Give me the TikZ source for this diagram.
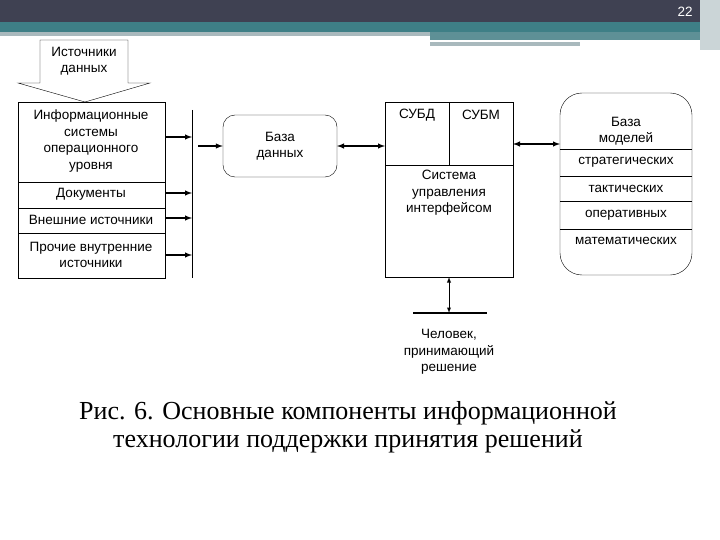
\documentclass[tikz,border=0pt]{standalone}
\usepackage{fontspec}
\setmainfont{Liberation Sans}
\newfontfamily\capfont{Liberation Serif}
\definecolor{hdr}{HTML}{3F4152}
\definecolor{teal}{HTML}{3E7F86}
\definecolor{lgr}{HTML}{A9B9BD}
\begin{document}
\begin{tikzpicture}[x=1pt,y=-1pt,
  txt/.style={font=\fontsize{13.5}{16.5}\selectfont,align=center,inner sep=0},
  arr/.style={-latex,line width=1.4pt},
  darr/.style={latex-latex,line width=1.4pt}]
\useasboundingbox (0,0) rectangle (720,540);
\fill[hdr] (0,0) rectangle (720,22);
\fill[teal] (0,22) rectangle (720,32);
\fill[lgr] (0,32) rectangle (430,36);
\fill[teal!70!lgr] (430,32) rectangle (700,40);
\fill[lgr] (430,42) rectangle (580,46);
\fill[lgr!60] (700,0) rectangle (720,50);
\node[text=white,txt] (pg) at (685,12) {22};
% source arrow shape
\draw (40,40) -- (128,40) -- (128,83) -- (150,83) -- (85,102) -- (18,83) -- (40,83) -- cycle;
\node[txt] (src) at (84,61) {Источники\\данных};
% left stack
\draw (18,102) rectangle (165,278);
\draw (18,182) -- (165,182) (18,208) -- (165,208) (18,233) -- (165,233);
\node[txt] (is) at (91,141) {Информационные\\системы\\операционного\\уровня};
\node[txt] (doc) at (91,194) {Документы};
\node[txt] (ext) at (91,220) {Внешние источники};
\node[txt] (oth) at (91,255) {Прочие внутренние\\источники};
\coordinate (bt) at (192,110); \coordinate (bb) at (192,278);
\draw (bt) -- (bb);
\foreach \y in {137,193,218,255} \draw[arr] (165,\y) -- (192,\y);
\node[draw,rounded corners=12,minimum width=114,minimum height=62,txt] (db) at (280,146) {База\\данных};
\draw[arr] (198,146) -- (db.west);
% main box
\draw (385,102) rectangle (513,277);
\coordinate (mw) at (385,146); \coordinate (me) at (513,144);
\coordinate (de) at (337,146);
\draw (385,165) -- (513,165) (449,102) -- (449,165);
\node[txt] (subd) at (417,115) {СУБД};
\node[txt] (subm) at (481,115) {СУБМ};
\node[txt] (sui) at (449,193) {Система\\управления\\интерфейсом};
\draw[darr] (de) -- (mw);
% model base
\draw[rounded corners=22] (560,93) rectangle (692,275);
\coordinate (mb) at (560,144);
\draw (560,149) -- (692,149) (560,176) -- (692,176) (560,201) -- (692,201) (560,229) -- (692,229);
\node[txt] (bm) at (626,131) {База\\моделей};
\node[txt] (s1) at (626,162) {стратегических};
\node[txt] (s2) at (626,189) {тактических};
\node[txt] (s3) at (626,215) {оперативных};
\node[txt] (s4) at (626,241) {математических};
\draw[darr] (me) -- (mb);
% person
\coordinate (pt) at (449,277); \coordinate (pb) at (449,313);
\draw[darr,line width=0.9pt] (pt) -- (pb);
\draw[line width=1.6pt] (413,313) -- (487,313);
\node[txt] (hum) at (449,352) {Человек,\\принимающий\\решение};
\node[inner sep=0,align=center,font=\capfont\fontsize{26}{28}\selectfont] (cap) at (348,427) {Рис. 6. Основные компоненты информационной\\технологии поддержки принятия решений};
\end{tikzpicture}
\end{document}
